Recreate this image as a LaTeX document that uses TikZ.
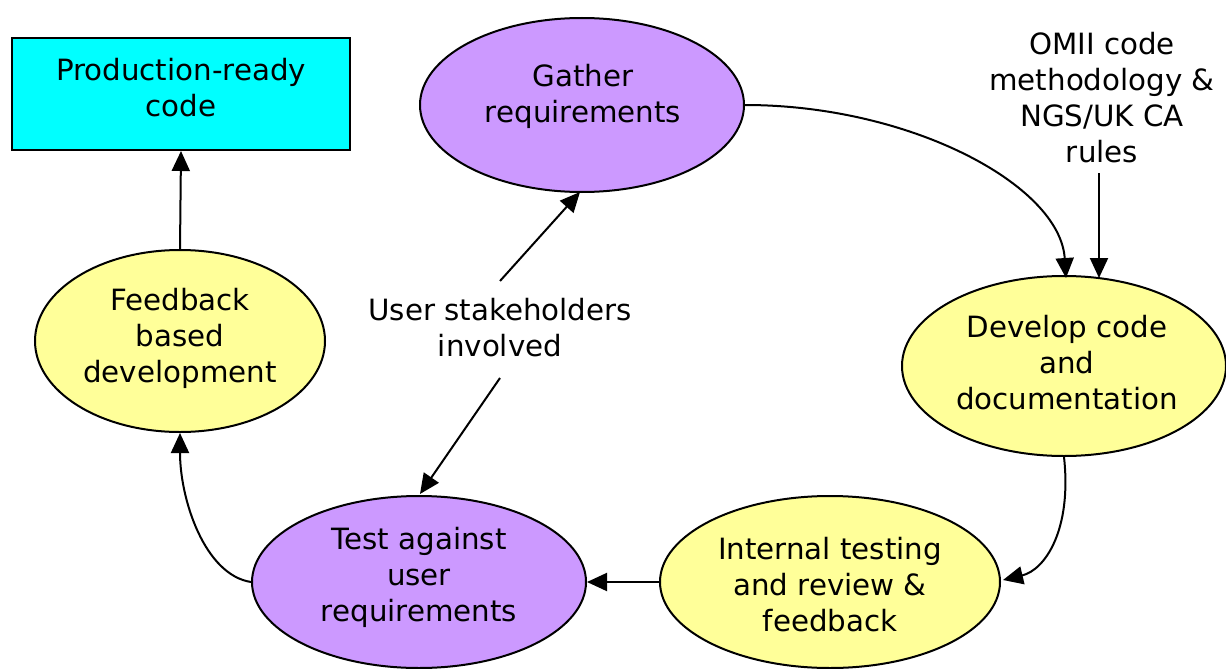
\documentclass[tikz,border=0pt]{standalone}
\usepackage{fontspec}
\setmainfont{DejaVu Sans}
\usetikzlibrary{shapes.geometric,arrows.meta}
\definecolor{lpurple}{HTML}{CC99FF}
\definecolor{lyellow}{HTML}{FFFF99}
\definecolor{lcyan}{HTML}{00FFFF}
\begin{document}
\begin{tikzpicture}[x=1pt,y=-1pt,
  oval/.style={ellipse,draw=black,line width=2pt,inner sep=0pt},
  txt/.style={align=center,font=\fontsize{29.3}{36}\selectfont,inner sep=0pt},
  conn/.style={line width=2pt,-{Triangle[length=20pt,width=18pt]}}]
\useasboundingbox (0,0) rectangle (1226,669);
% shapes
\node[draw=black,line width=2pt,fill=lcyan,minimum width=338pt,minimum height=112pt,inner sep=0pt] (prod) at (181,94) {};
\node[oval,fill=lpurple,minimum width=324pt,minimum height=174pt] (gather) at (582,105) {};
\node[oval,fill=lyellow,minimum width=324pt,minimum height=180pt] (dev) at (1064,366) {};
\node[oval,fill=lyellow,minimum width=340pt,minimum height=172pt] (int) at (830,582) {};
\node[oval,fill=lpurple,minimum width=334pt,minimum height=172pt] (test) at (419,582) {};
\node[oval,fill=lyellow,minimum width=290pt,minimum height=182pt] (fb) at (180,341) {};
% texts
\node[txt] (prodt) at (181,88) {Production-ready\\code};
\node[txt] (gathert) at (583,96) {Gather\\requirements};
\node[txt] (devt) at (1067,363) {Develop code\\and\\documentation};
\node[txt] (intt) at (830,585) {Internal testing\\and review \&\\feedback};
\node[txt] (testt) at (419,577) {Test against\\user\\requirements};
\node[txt] (fbt) at (180,338) {Feedback\\based\\development};
\node[txt] (omii) at (1102,98) {OMII code\\methodology \&\\NGS/UK CA\\rules};
\node[txt] (user) at (500,328) {User stakeholders\\involved};
% connectors
\coordinate (omiiend) at (1099,173);
\coordinate (u1) at (500,281);
\coordinate (u2) at (500,378);
\draw[conn] (gather.east) .. controls (910,105) and (1060,185) .. (1066,278);
\draw[conn] (omiiend) -- (1099,278);
\draw[conn] (dev.south) .. controls (1072,530) and (1045,570) .. (1003,580);
\draw[conn] (int.west) -- (test.east);
\draw[conn] (test.west) .. controls (205,575) and (180,500) .. (fb.south);
\draw[conn] (fb.north) -- (prod.south);
\draw[conn] (u1) -- (580,192);
\draw[conn] (u2) -- (420,494);
\end{tikzpicture}
\end{document}
